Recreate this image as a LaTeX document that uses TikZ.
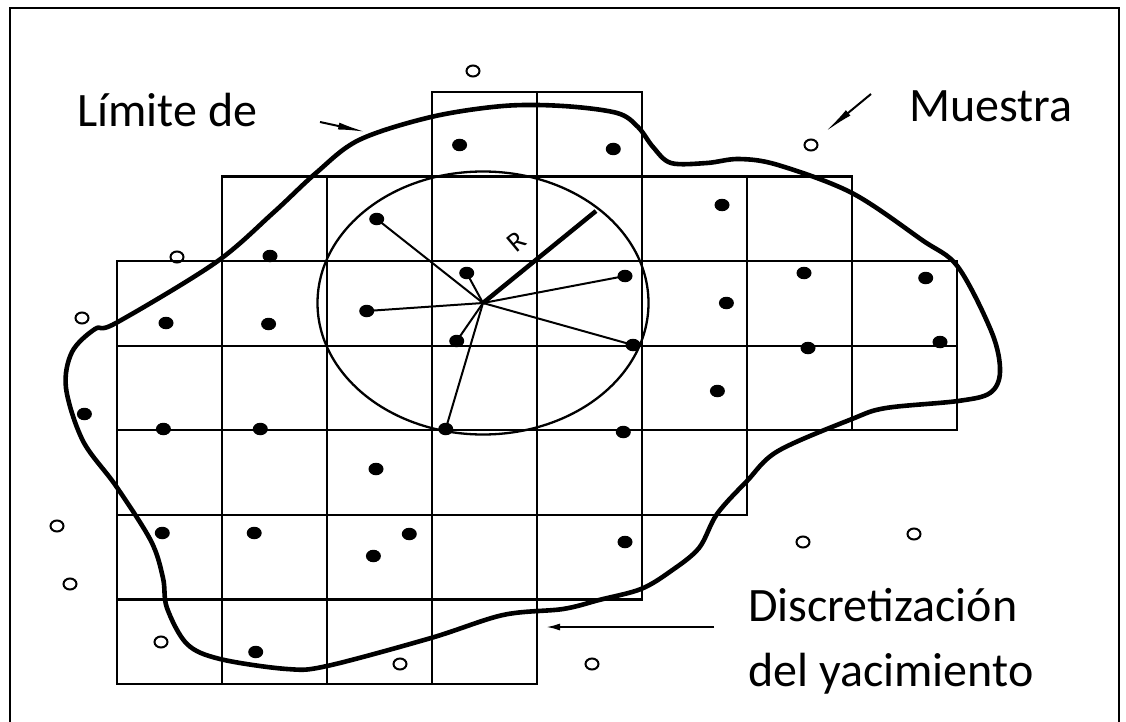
\documentclass[tikz,border=0pt]{standalone}
\usepackage{fontspec}
\setmainfont{Carlito}
\usetikzlibrary{arrows.meta,shapes.geometric,positioning}

\tikzset{
  cell/.style={draw, line width=2.2pt},
  boundary/.style={line width=4.6pt, line join=round},
  dot/.style={ellipse, fill, inner sep=0pt, minimum width=15pt, minimum height=12.5pt},
  sample/.style={ellipse, draw, line width=2pt, inner sep=0pt, minimum width=13pt, minimum height=11pt},
  ray/.style={line width=2pt},
  bigtext/.style={font=\fontsize{48}{58}\selectfont, inner sep=0pt, anchor=base west},
  pointer/.style={line width=2pt},
}

\begin{document}
\begin{tikzpicture}[x=1pt,y=-1pt]
  \clip (0,0) rectangle (1126,722);
  \draw[line width=2.8pt] (10,8) rectangle (1119,760);

  % grid blocks: row / first column / last column
  \foreach \r/\a/\b in {0/3/4, 1/1/6, 2/0/7, 3/0/7, 4/0/5, 5/0/4, 6/0/3}
    \foreach \c in {\a,...,\b}
      \draw[cell] ({117+105*\c},{92+84.57*\r}) rectangle +(105,84.57);

  % search ellipse
  \coordinate (c) at (483,303);
  \draw[line width=2.3pt] (c) ellipse [x radius=165.5, y radius=131.5];

  % deposit limit
  \draw[boundary] plot[smooth cycle, tension=0.55] coordinates {
    (116,323) (215,263) (273,213) (316,173) (359,140) (431,117) (503,106)
    (563,106) (617,113) (638,127) (653,147) (671,163) (707,163) (739,159)
    (778,165) (852,193) (922,240) (958,267) (992,333) (1000,372) (990,393)
    (958,401) (886,408) (852,419) (778,451) (747,481) (717,514) (699,548)
    (671,571) (641,589) (599,600) (563,609) (503,615) (431,638) (327,666)
    (287,669) (220,659) (187,644) (167,608) (163,578) (151,541) (116,486)
    (83,441) (66,388) (72,352) (95,329)};

  % samples used in the estimate
  \node[dot] (r1) at (376.7,219) {};
  \node[dot] (r2) at (466.7,273) {};
  \node[dot] (r3) at (625,276) {};
  \node[dot] (r4) at (366.7,311) {};
  \node[dot] (r5) at (456.7,341) {};
  \node[dot] (r6) at (633,345) {};
  \node[dot] (r7) at (445.7,429) {};
  \foreach \n in {r1,r2,r3,r4,r5,r6,r7}
    \draw[ray] (c) -- (\n.center);
  \coordinate (rad) at (596,211);
  \draw[line width=4.5pt] (c) -- (rad);
  \node[font=\fontsize{28}{30}\selectfont, rotate=40] (rlab) at (517,242) {R};

  % other samples inside the grid
  \node[dot] (d1) at (459.6,145) {};
  \node[dot] (d2) at (613.3,149) {};
  \node[dot] (d3) at (722,205) {};
  \node[dot] (d4) at (270,256) {};
  \node[dot] (d5) at (166,323) {};
  \node[dot] (d6) at (268.6,324) {};
  \node[dot] (d7) at (804,273) {};
  \node[dot] (d8) at (925.7,278) {};
  \node[dot] (d9) at (726.4,303) {};
  \node[dot] (d10) at (808,348) {};
  \node[dot] (d11) at (940,342) {};
  \node[dot] (d12) at (84.4,414) {};
  \node[dot] (d13) at (163.4,429) {};
  \node[dot] (d14) at (260.3,429) {};
  \node[dot] (d15) at (717.4,391) {};
  \node[dot] (d16) at (623.3,432) {};
  \node[dot] (d17) at (376,469) {};
  \node[dot] (d18) at (162.3,533) {};
  \node[dot] (d19) at (254.2,533) {};
  \node[dot] (d20) at (409.3,534) {};
  \node[dot] (d21) at (373.4,556) {};
  \node[dot] (d22) at (625,542) {};
  \node[dot] (d23) at (255.7,652) {};

  % samples outside
  \node[sample] (o1) at (473,71) {};
  \node[sample] (o2) at (811,145) {};
  \node[sample] (o3) at (177,257) {};
  \node[sample] (o4) at (82,318) {};
  \node[sample] (o5) at (57,526) {};
  \node[sample] (o6) at (70,584) {};
  \node[sample] (o7) at (161,642) {};
  \node[sample] (o8) at (400,664) {};
  \node[sample] (o9) at (592,664) {};
  \node[sample] (o10) at (803,542) {};
  \node[sample] (o11) at (914,534) {};

  % labels
  \node[bigtext] (limite) at (77,127) {Límite de};
  \node[bigtext] (muestra) at (909,122) {Muestra};
  \node[bigtext] (discr) at (748,621) {Discretización};
  \node[bigtext] (yac) at (748,686) {del yacimiento};

  % pointers
  \coordinate (limA) at (320,122);
  \coordinate (limB) at (366,132);
  \draw[pointer, -{Latex[length=28pt,width=7pt]}] (limA) -- (limB);
  \coordinate (musA) at (871,94);
  \coordinate (musB) at (825,132);
  \draw[pointer, -{Latex[length=30pt,width=7pt]}] (musA) -- (musB);
  \coordinate (disA) at (714,627);
  \coordinate (disB) at (546,627);
  \draw[pointer, -{Latex[length=14pt,width=7pt]}] (disA) -- (disB);
\end{tikzpicture}
\end{document}
